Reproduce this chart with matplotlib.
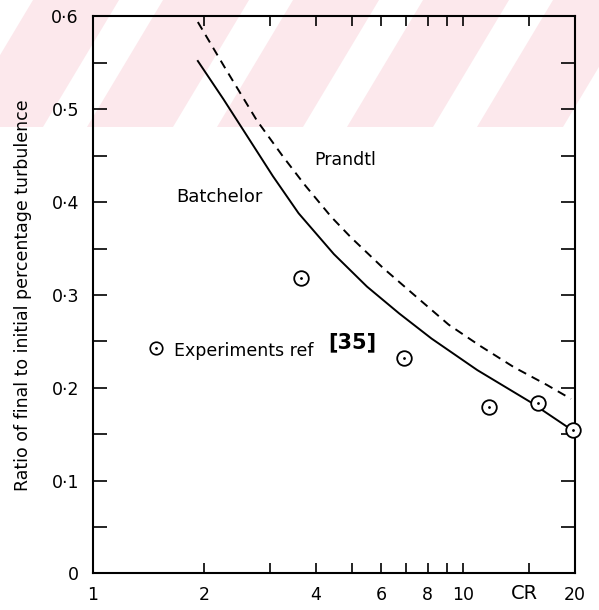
import matplotlib
matplotlib.use("Agg")
import matplotlib.pyplot as plt
import numpy as np
from matplotlib.patches import Polygon
from matplotlib.ticker import FixedLocator, MultipleLocator, NullLocator, FuncFormatter

# contraction ratio vs ratio of final to initial percentage turbulence
cr_batchelor = [1.92, 2.25, 2.60, 3.06, 3.59, 4.47, 5.49, 6.71, 8.20, 10.9, 15.1, 19.7]
batchelor = [0.552, 0.511, 0.472, 0.428, 0.388, 0.344, 0.309, 0.280, 0.253, 0.219, 0.185, 0.154]

cr_prandtl = [1.92, 2.27, 2.77, 3.26, 3.74, 4.40, 4.97, 6.07, 7.46, 9.12, 11.1, 13.7, 16.8, 19.5]
prandtl = [0.594, 0.545, 0.488, 0.449, 0.418, 0.384, 0.362, 0.329, 0.298, 0.268, 0.245, 0.222, 0.203, 0.188]

cr_exp = [3.65, 6.89, 11.7, 15.9, 19.7]
ratio_exp = [0.318, 0.232, 0.179, 0.184, 0.154]

x_ticks = [1, 2, 3, 4, 5, 6, 7, 8, 9, 10, 15, 20]
x_labels = ['1', '2', '', '4', '', '6', '', '8', '', '10', '', '20']

W, H = 599, 610
fig = plt.figure(figsize=(W / 100, H / 100), dpi=100)
fig.patch.set_facecolor('white')

# faint diagonal stripes across the top band
band_h = 127
lean = 76
period, pink_w = 130, 86
for xs in np.arange(477 - 6 * period, W, period):
    pts = [(xs, band_h), (xs + pink_w, band_h), (xs + pink_w + lean, 0), (xs + lean, 0)]
    pts = [(px / W, 1 - py / H) for px, py in pts]
    fig.patches.append(Polygon(pts, closed=True, transform=fig.transFigure,
                               facecolor='#fce8ec', edgecolor='none', zorder=-1))

ax = fig.add_axes([0.155, 0.060, 0.805, 0.913])
ax.set_facecolor('none')
ax.set_xscale('log')
ax.set_xlim(1, 20)
ax.set_ylim(0, 0.6)

ax.plot(cr_batchelor, batchelor, color='black', lw=1.4)
ax.plot(cr_prandtl, prandtl, color='black', lw=1.4, linestyle=(0, (4.5, 3.2)))
ax.plot(cr_exp, ratio_exp, linestyle='none', marker='o', ms=10.5, mfc='white',
        mec='black', mew=1.3, clip_on=False, zorder=3)
ax.plot(cr_exp, ratio_exp, linestyle='none', marker='.', ms=2, color='black',
        clip_on=False, zorder=4)

ax.text(2.2, 0.406, 'Batchelor', fontsize=13, ha='center', va='center')
ax.text(4.8, 0.445, 'Prandtl', fontsize=12.5, ha='center', va='center')

# key for the measured points
ax.plot([1.48], [0.243], linestyle='none', marker='o', ms=9, mfc='white',
        mec='black', mew=1.2, zorder=3)
ax.plot([1.48], [0.243], linestyle='none', marker='.', ms=2, color='black', zorder=4)
ax.text(1.66, 0.240, 'Experiments ref', fontsize=12.5, ha='left', va='center')
ax.text(4.31, 0.249, '[35]', fontsize=15, fontweight='bold', ha='left', va='center')

ax.text(14.6, -0.022, 'CR', fontsize=14, ha='center', va='center', clip_on=False)

ax.xaxis.set_major_locator(FixedLocator(x_ticks))
ax.xaxis.set_minor_locator(NullLocator())
ax.set_xticklabels(x_labels)
ax.yaxis.set_major_locator(MultipleLocator(0.1))
ax.yaxis.set_minor_locator(MultipleLocator(0.05))
ax.yaxis.set_major_formatter(FuncFormatter(
    lambda v, _: '0' if abs(v) < 1e-9 else ('%.1f' % v).replace('.', '\u00b7')))

ax.tick_params(axis='x', which='both', direction='in', top=True, bottom=True,
               length=7, width=1.2, labelsize=12.5, pad=9)
ax.tick_params(axis='y', which='both', direction='in', left=True, right=True,
               length=10, width=1.2, labelsize=12.5, pad=10)
for side in ax.spines.values():
    side.set_linewidth(1.5)

ax.set_ylabel('Ratio of final to initial percentage turbulence', fontsize=12.5,
              labelpad=14)

fig.savefig('out.png', dpi=100)
